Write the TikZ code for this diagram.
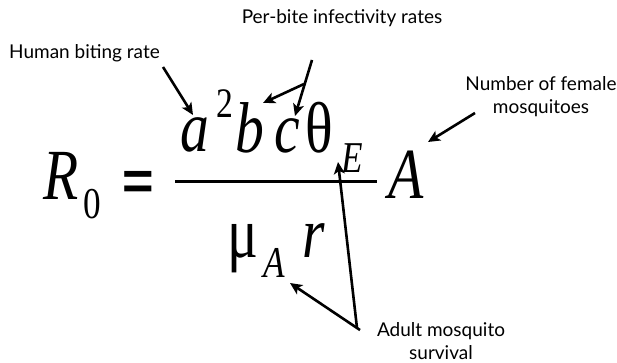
\documentclass[tikz,border=0pt]{standalone}
\usepackage{fontspec}
\setmainfont{Liberation Serif}
\newfontfamily\eqfont[FakeStretch=0.8]{Liberation Serif}
\newfontfamily\lblfont{Lato}
\newfontfamily\eqsans{Liberation Sans}
\usetikzlibrary{arrows.meta}
\begin{document}
\begin{tikzpicture}[x=1pt,y=-1pt,
  lbl/.style={font=\lblfont\fontsize{19}{23}\selectfont, inner sep=0pt, align=center},
  big/.style={font=\eqfont\fontsize{72}{72}\selectfont, inner sep=0pt, anchor=base west},
  sml/.style={font=\eqfont\fontsize{44}{44}\selectfont, inner sep=0pt, anchor=base west},
  arr/.style={line width=2.6pt, -{Stealth[length=12pt,width=11pt,inset=3pt]}}]
\useasboundingbox (0,0) rectangle (617,363);
\fill[white] (0,0) rectangle (617,363);
% labels
\node[lbl] (perbite) at (342,18) {Per-bite infectivity rates};
\node[lbl, anchor=west] (human) at (9,53) {Human biting rate};
\node[lbl] (female) at (541,97) {Number of female\\mosquitoes};
\node[lbl] (adult) at (441,341) {Adult mosquito\\survival};
% equation
\node[big] (R) at (43,200) {\itshape R};
\node[sml] (zero) at (83,218) {0};
\node[inner sep=0pt, font=\eqsans\bfseries\fontsize{54}{54}\selectfont, anchor=base west] (eq) at (122,199) {=};
\node[big] (a) at (180,152) {\itshape a};
\node[sml, font=\eqfont\fontsize{42}{42}\selectfont] (two) at (216,118) {2};
\node[big] (b) at (235,153) {\itshape b};
\node[big] (c) at (274,153) {\itshape c};
\node[big] (theta) at (305,153) {θ};
\node[sml] (E) at (341,173) {\itshape E};
\node[big] (Af) at (388,198) {\itshape A};
\node[big] (mu) at (227,257) {μ};
\node[sml] (Asub) at (263,277) {\itshape A};
\node[big] (r) at (302,257) {\itshape r};
\coordinate (fl) at (175,182);
\coordinate (fr) at (377,182);
\draw[line width=3pt] (fl) -- (fr);
% arrow anchor points
\coordinate (h0) at (163,67);
\coordinate (h1) at (193,115);
\coordinate (p0) at (312,60);
\coordinate (pj) at (304,84);
\coordinate (pc) at (295,116);
\coordinate (pb) at (263,103);
\coordinate (f0) at (475,113);
\coordinate (f1) at (428,142);
\coordinate (aj) at (357,328);
\coordinate (aE) at (338,162);
\coordinate (aA) at (290,283);
\draw[arr] (h0) -- (h1);
\draw[arr] (p0) -- (pc);
\draw[arr] (pj) -- (pb);
\draw[arr] (f0) -- (f1);
\draw[arr] (aj) -- (aE);
\draw[arr] (aj) ++(3,2) -- (aA);
\end{tikzpicture}
\end{document}
